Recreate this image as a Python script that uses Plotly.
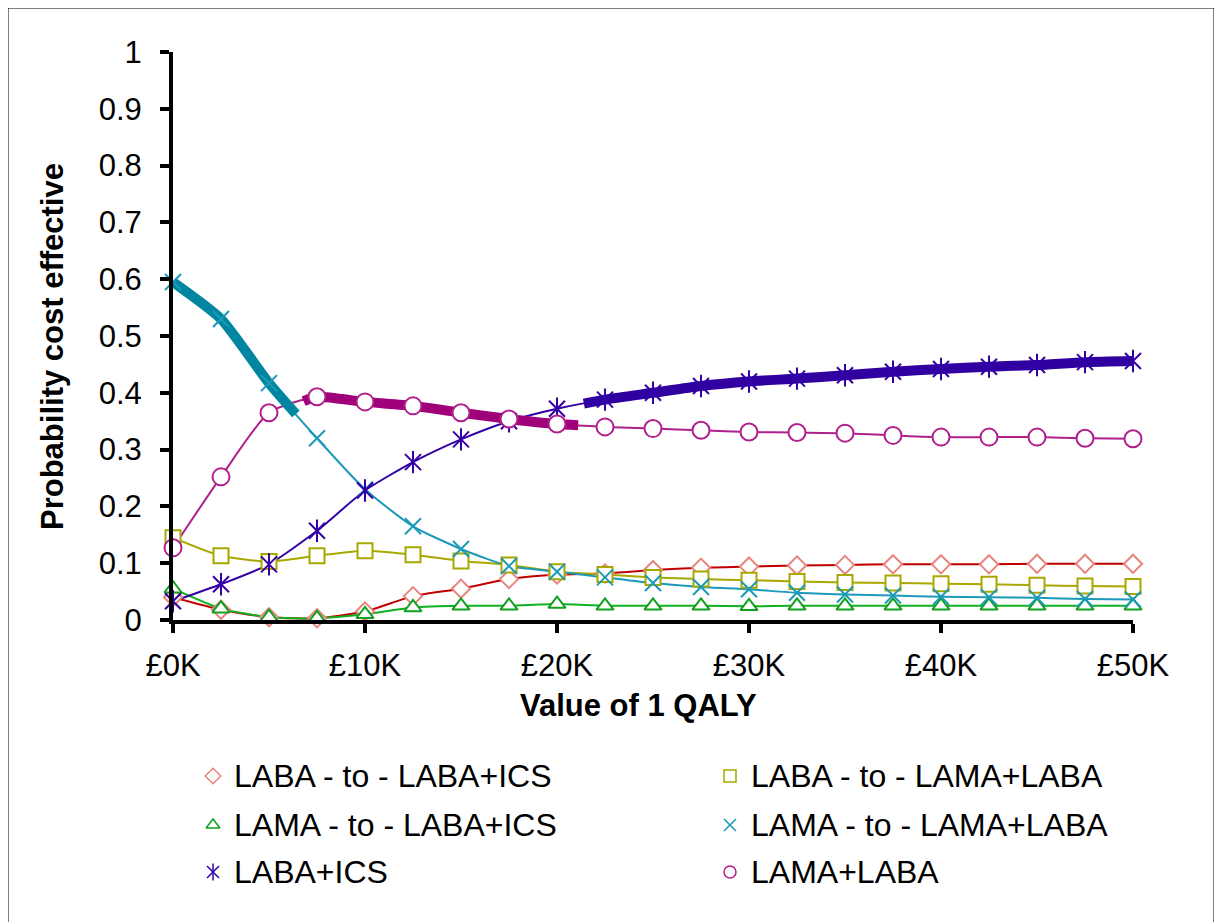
import numpy as np
import plotly.graph_objects as go

wtp = [0, 2500, 5000, 7500, 10000, 12500, 15000, 17500, 20000, 22500, 25000,
       27500, 30000, 32500, 35000, 37500, 40000, 42500, 45000, 47500, 50000]

laba_to_laba_ics = [0.040, 0.018, 0.005, 0.003, 0.015, 0.042, 0.055, 0.072, 0.080, 0.082, 0.088,
                    0.092, 0.094, 0.096, 0.097, 0.098, 0.098, 0.098, 0.099, 0.099, 0.099]
laba_to_lama_laba = [0.145, 0.113, 0.103, 0.113, 0.122, 0.115, 0.104, 0.097, 0.085, 0.080, 0.075,
                     0.072, 0.070, 0.068, 0.066, 0.065, 0.064, 0.063, 0.061, 0.060, 0.059]
lama_to_laba_ics = [0.055, 0.020, 0.005, 0.003, 0.010, 0.022, 0.025, 0.025, 0.028, 0.025, 0.025,
                    0.025, 0.024, 0.025, 0.025, 0.025, 0.025, 0.025, 0.025, 0.025, 0.025]
lama_to_lama_laba = [0.595, 0.530, 0.417, 0.320, 0.230, 0.165, 0.125, 0.095, 0.085, 0.075, 0.065,
                     0.058, 0.054, 0.048, 0.045, 0.043, 0.041, 0.040, 0.039, 0.037, 0.036]
laba_ics = [0.033, 0.063, 0.098, 0.157, 0.228, 0.278, 0.318, 0.350, 0.372, 0.388, 0.400,
            0.412, 0.420, 0.425, 0.431, 0.437, 0.442, 0.446, 0.449, 0.454, 0.456]
lama_laba = [0.127, 0.252, 0.365, 0.393, 0.384, 0.377, 0.365, 0.354, 0.345, 0.340, 0.337,
             0.334, 0.331, 0.330, 0.329, 0.325, 0.322, 0.322, 0.322, 0.320, 0.319]

series_names = ["LABA - to - LABA+ICS", "LABA - to - LAMA+LABA", "LAMA - to - LABA+ICS",
                "LAMA - to - LAMA+LABA", "LABA+ICS", "LAMA+LABA"]

x_tickvals = [0, 10000, 20000, 30000, 40000, 50000]
x_ticktext = ["£0K", "£10K", "£20K", "£30K", "£40K", "£50K"]
y_tickvals = [0, 0.1, 0.2, 0.3, 0.4, 0.5, 0.6, 0.7, 0.8, 0.9, 1]
y_ticktext = ["0", "0.1", "0.2", "0.3", "0.4", "0.5", "0.6", "0.7", "0.8", "0.9", "1"]

x_title = "Value of 1 QALY"
y_title = "Probability cost effective"

# styles: (line colour, marker symbols (layered), marker colour, marker size)
styles = [
    ("#C00000", ["diamond"], "#E8847C", 14),
    ("#A8A800", ["square"], "#A8A800", 15),
    ("#10B020", ["triangle-up"], "#10A020", 15),
    ("#1A9AB8", ["x-thin-open"], "#1A9AB8", 16),
    ("#3300A8", ["x-thin-open", "line-ns-open"], "#3300A8", 16),
    ("#B0208C", ["circle"], "#B0208C", 17),
]
series_values = [laba_to_laba_ics, laba_to_lama_laba, lama_to_laba_ics,
                 lama_to_lama_laba, laba_ics, lama_laba]

# cost-effectiveness frontier (series index, start, end, colour)
frontier = [
    (3, 0, 6400, "#0086A0"),
    (5, 6800, 21100, "#A0007A"),
    (4, 21400, 50000, "#3000A0"),
]

W, H = 1222, 922
OFF = 8          # page body margin offset
L, T = 173 - OFF, 52 - OFF
PW, PH = 960, 568
FS = 31

fig = go.Figure()

def marker_style(sym, mcol, size, lw=2.0):
    open_sym = sym.endswith("-open")
    return dict(symbol=sym, size=size, color=mcol if open_sym else "white",
                line=dict(color=mcol, width=lw))

# thin series lines
for name, ys, (lcol, syms, mcol, size) in zip(series_names, series_values, styles):
    fig.add_trace(go.Scatter(
        x=wtp, y=ys, mode="lines", showlegend=False, name=name,
        line=dict(color=lcol, width=2, shape="spline", smoothing=0.6),
        cliponaxis=False, hoverinfo="skip"))

# thick frontier segments
for idx, x0, x1, col in frontier:
    ys = series_values[idx]
    xs = [x0] + [w for w in wtp if x0 < w < x1] + [x1]
    yv = list(np.interp(xs, wtp, ys))
    fig.add_trace(go.Scatter(x=xs, y=yv, mode="lines", showlegend=False,
                             line=dict(color=col, width=10, shape="spline", smoothing=0.6),
                             cliponaxis=False, hoverinfo="skip"))

# markers
for name, ys, (lcol, syms, mcol, size) in zip(series_names, series_values, styles):
    for sym in syms:
        fig.add_trace(go.Scatter(
            x=wtp, y=ys, mode="markers", showlegend=False, name=name,
            marker=marker_style(sym, mcol, size), cliponaxis=False))

# manual legend on a pixel-coordinate overlay axis
leg_cols = [213 - OFF, 730 - OFF]
leg_rows = [776 - OFF, 825 - OFF, 872 - OFF]
leg_text_dx = 19
for i, (name, (lcol, syms, mcol, size)) in enumerate(zip(series_names, styles)):
    cx = leg_cols[i % 2]
    cy = leg_rows[i // 2]
    for sym in syms:
        fig.add_trace(go.Scatter(
            x=[cx], y=[cy], mode="markers", xaxis="x2", yaxis="y2", showlegend=False,
            marker=marker_style(sym, mcol, 12, 1.5), hoverinfo="skip", cliponaxis=False))
    fig.add_annotation(text=name, xref="x2", yref="y2", x=cx + leg_text_dx, y=cy,
                       xanchor="left", yanchor="middle", showarrow=False,
                       font=dict(size=FS + 1))

fig.update_layout(
    width=W, height=H,
    margin=dict(l=0, r=0, t=0, b=0, autoexpand=False),
    paper_bgcolor="white", plot_bgcolor="rgba(0,0,0,0)",
    font=dict(family="Liberation Sans, Arial, sans-serif", size=FS, color="black"),
    showlegend=False,
    xaxis=dict(domain=[L / W, (L + PW) / W], range=[0, 50000],
               tickvals=x_tickvals, ticktext=x_ticktext,
               showgrid=False, zeroline=False, showline=True, linecolor="black", linewidth=4,
               ticks="outside", ticklen=9, tickwidth=4, tickcolor="black",
               ticklabelstandoff=6, automargin=False),
    yaxis=dict(domain=[(H - T - PH) / H, (H - T) / H], range=[0, 1],
               tickvals=y_tickvals, ticktext=y_ticktext,
               showgrid=False, zeroline=False, showline=True, linecolor="black", linewidth=4,
               ticks="outside", ticklen=9, tickwidth=4, tickcolor="black",
               ticklabelstandoff=12, automargin=False),
    xaxis2=dict(domain=[0, 1], range=[0, W], visible=False, anchor="y2", automargin=False),
    yaxis2=dict(domain=[0, 1], range=[H, 0], visible=False, anchor="x2", automargin=False),
    shapes=[
        dict(type="rect", xref="x2", yref="y2", x0=7 - OFF, x1=1215 - OFF, y0=7 - OFF, y1=960,
             line=dict(color="black", width=3), layer="below"),
    ],
)

fig.add_annotation(text="<b>" + x_title + "</b>", xref="x2", yref="y2", x=638 - OFF, y=705 - OFF,
                   xanchor="center", yanchor="middle", showarrow=False, font=dict(size=FS))
fig.add_annotation(text="<b>" + y_title + "</b>", xref="x2", yref="y2", x=52 - OFF, y=347 - OFF,
                   xanchor="center", yanchor="middle", textangle=-90, showarrow=False,
                   font=dict(size=FS))

fig.write_html("out.html")
